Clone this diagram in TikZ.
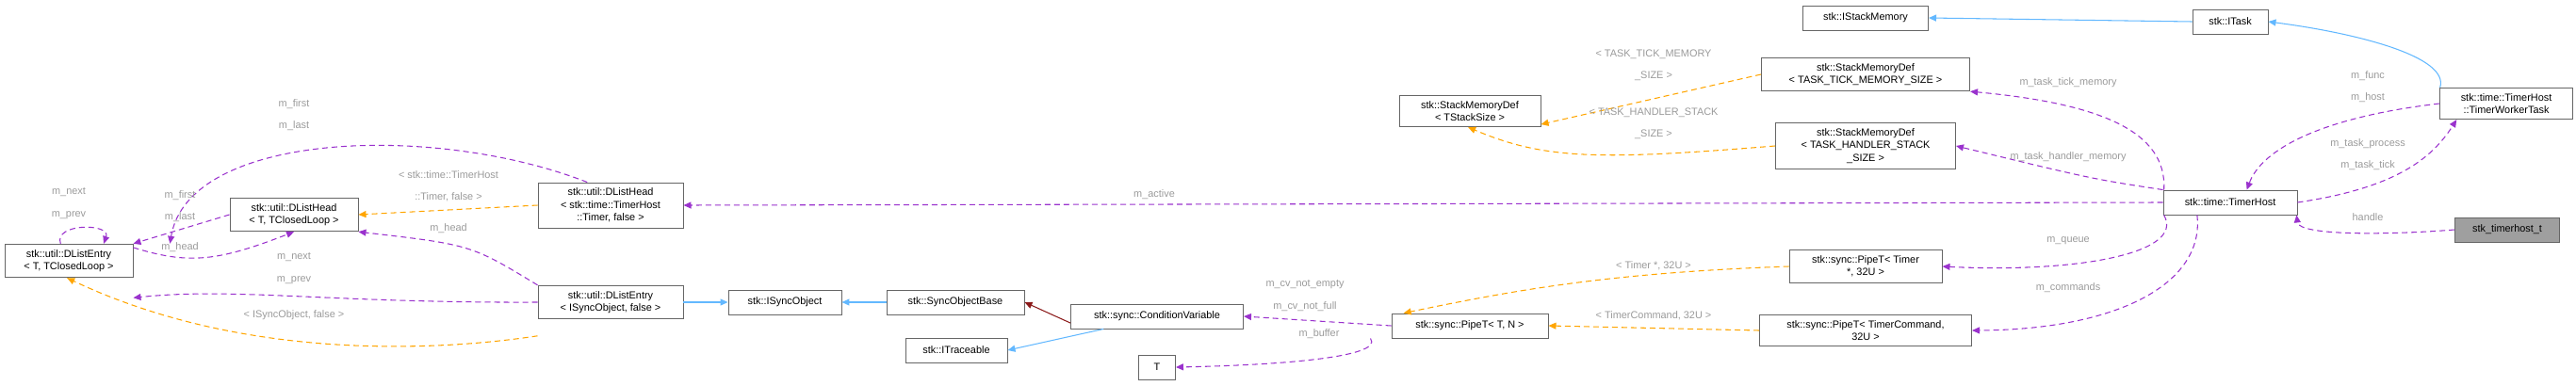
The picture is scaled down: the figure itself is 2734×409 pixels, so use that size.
\documentclass[tikz,border=0pt]{standalone}
\usepackage{fontspec}
\setmainfont{Liberation Sans}
\usetikzlibrary{arrows.meta}
\definecolor{mbr}{HTML}{9A32CD}
\definecolor{tpl}{HTML}{FFA500}
\definecolor{inh}{HTML}{63B8FF}
\definecolor{prv}{HTML}{8B1A1A}
\definecolor{lbl}{HTML}{9A9A9A}
\begin{document}
\begin{tikzpicture}[x=0.01cm,y=-0.01cm]
    \tikzset{every node/.style={font=\fontsize{3.1}{3.8}\selectfont,align=center,inner sep=0.6mm},
      box/.style={draw=gray!80!black,line width=0.25pt,fill=white,minimum height=0.26cm},
      note/.style={text=lbl,inner sep=0pt},
      member/.style={-{Triangle[width=0.07cm,length=0.08cm,fill=mbr]},draw=mbr,dash pattern=on 0.06cm off 0.04cm,line width=0.3pt},
      templ/.style={-{Triangle[width=0.07cm,length=0.08cm,fill=tpl]},draw=tpl,dash pattern=on 0.06cm off 0.04cm,line width=0.3pt},
      inherit/.style={-{Triangle[width=0.07cm,length=0.08cm,fill=inh]},draw=inh,line width=0.3pt},
      private/.style={-{Triangle[width=0.07cm,length=0.08cm,fill=prv]},draw=prv,line width=0.3pt}}
    \useasboundingbox (0,0) rectangle (2734,409);

    \node[box,minimum width=1.36cm] at (73,277)   (le) {stk::util::DListEntry\\< T, TClosedLoop >};
    \node[box,minimum width=1.36cm] at (312,228)  (lh) {stk::util::DListHead\\< T, TClosedLoop >};
    \node[box,minimum width=1.54cm] at (648,218)  (lht) {stk::util::DListHead\\< stk::time::TimerHost\\::Timer, false >};
    \node[box,minimum width=1.54cm] at (648,321)  (les) {stk::util::DListEntry\\< ISyncObject, false >};
    \node[box,minimum width=1.2cm] at (833,321)   (iso) {stk::ISyncObject};
    \node[box,minimum width=1.46cm] at (1014,321) (sob) {stk::SyncObjectBase};
    \node[box,minimum width=1.08cm] at (1015,372) (itr) {stk::ITraceable};
    \node[box,minimum width=1.83cm] at (1228,336) (cv) {stk::sync::ConditionVariable};
    \node[box,minimum width=0.39cm] at (1228,390) (t) {T};
    \node[box,minimum width=1.66cm] at (1560,346) (pn) {stk::sync::PipeT< T, N >};
    \node[box,minimum width=1.62cm] at (1980,283) (pt) {stk::sync::PipeT< Timer\\ *, 32U >};
    \node[box,minimum width=2.25cm] at (1980,351) (pc) {stk::sync::PipeT< TimerCommand,\\ 32U >};
    \node[box,minimum width=1.5cm] at (1560,118)  (sms) {stk::StackMemoryDef\\< TStackSize >};
    \node[box,minimum width=2.21cm] at (1980,79)  (smt) {stk::StackMemoryDef\\< TASK\_TICK\_MEMORY\_SIZE >};
    \node[box,minimum width=1.91cm] at (1980,155) (smh) {stk::StackMemoryDef\\< TASK\_HANDLER\_STACK\\\_SIZE >};
    \node[box,minimum width=1.33cm] at (1980,19)  (ism) {stk::IStackMemory};
    \node[box,minimum width=0.8cm] at (2367,23)   (itk) {stk::ITask};
    \node[box,minimum width=1.42cm] at (2367,215) (th) {stk::time::TimerHost};
    \node[box,minimum width=1.41cm] at (2660,110) (twt) {stk::time::TimerHost\\::TimerWorkerTask};
    \node[box,minimum width=1.11cm,fill=gray!75] at (2661,244) (hdl) {stk\_timerhost\_t};

    % list nodes
    \draw[member] ([xshift=17]le.north west) .. controls +(-8,-22) and +(8,-22) .. ([xshift=30]le.north west);
    \node[note] at (73,216) (n1) {m\_next\\[1mm]m\_prev};
    \draw[member] ([xshift=15]lht.north west) .. controls (460,130) and (200,140) .. ([xshift=50]le.north west);
    \node[note] at (312,122) (n2) {m\_first\\[1mm]m\_last};
    \draw[member] (lh.west) -- (le.north east);
    \node[note] at (191,219) (n3) {m\_first\\[1mm]m\_last};
    \draw[member] ([yshift=4]le.east) .. controls (200,281) and (230,278) .. (lh.south);
    \node[note] at (191,263) (n4) {m\_head};
    \draw[member] (les.north west) .. controls (500,260) .. (lh.south east);
    \node[note] at (476,243) (n5) {m\_head};
    \draw[member] (les.west) .. controls (350,322) and (250,305) .. ([yshift=-6]le.south east);
    \node[note] at (312,285) (n6) {m\_next\\[1mm]m\_prev};
    \draw[templ] (lht.west) -- (lh.east);
    \node[note] at (476,198) (n7) {< stk::time::TimerHost\\[1mm]::Timer, false >};
    \draw[templ] ([yshift=-5]les.south west) .. controls (450,375) and (250,380) .. ([xshift=-20]le.south east);
    \node[note] at (312,335) (n8) {< ISyncObject, false >};

    % sync objects
    \draw[inherit] (les.east) -- (iso.west);
    \draw[inherit] (sob.west) -- (iso.east);
    \draw[private] ([yshift=-2]cv.west) -- (sob.east);
    \draw[inherit] ([xshift=10]cv.south west) -- (itr.east);
    \draw[member] (pn.west) -- (cv.east);
    \node[note] at (1385,314) (n9) {m\_cv\_not\_empty\\[1mm]m\_cv\_not\_full};
    \draw[member] ([xshift=-30]pn.south) .. controls (1470,380) and (1350,388) .. (t.east);
    \node[note] at (1400,355) (n10) {m\_buffer};
    \draw[templ] (pt.west) .. controls (1700,290) and (1600,310) .. ([xshift=-20]pn.north);
    \node[note] at (1755,282) (n11) {< Timer *, 32U >};
    \draw[templ] (pc.west) -- (pn.east);
    \node[note] at (1755,335) (n12) {< TimerCommand, 32U >};

    % stack memory
    \draw[templ] (smt.west) -- ([yshift=-4]sms.east);
    \node[note] at (1755,69) (n13) {< TASK\_TICK\_MEMORY\\[1mm]\_SIZE >};
    \draw[templ] (smh.west) .. controls (1700,170) and (1640,170) .. ([xshift=-22]sms.south east);
    \node[note] at (1755,131) (n14) {< TASK\_HANDLER\_STACK\\[1mm]\_SIZE >};
    \draw[inherit] (itk.west) -- (ism.east);
    \draw[inherit] ([xshift=-20]twt.north) .. controls (2600,60) and (2500,35) .. (itk.east);

    % timer host
    \draw[member] ([xshift=-20]th.north) .. controls (2300,140) and (2230,110) .. (smt.south east);
    \node[note] at (2195,88) (n15) {m\_task\_tick\_memory};
    \draw[member] (th.north west) .. controls (2220,190) .. (smh.east);
    \node[note] at (2195,167) (n16) {m\_task\_handler\_memory};
    \draw[member] (th.west) -- (lht.east);
    \node[note] at (1225,207) (n17) {m\_active};
    \draw[member] ([xshift=-20]th.south) .. controls (2320,270) and (2200,290) .. (pt.east);
    \node[note] at (2195,256) (n18) {m\_queue};
    \draw[member] ([xshift=-10]th.south) .. controls (2340,300) and (2250,350) .. (pc.east);
    \node[note] at (2195,306) (n19) {m\_commands};
    \draw[member] (twt.west) .. controls (2460,125) and (2400,160) .. ([xshift=5]th.north);
    \node[note] at (2513,92) (n20) {m\_func\\[1mm]m\_host};
    \draw[member] (th.east) .. controls (2540,200) and (2580,170) .. ([xshift=-15]twt.south);
    \node[note] at (2513,164) (n21) {m\_task\_process\\[1mm]m\_task\_tick};
    \draw[member] (hdl.west) .. controls (2530,250) and (2440,250) .. ([xshift=20]th.south);
    \node[note] at (2513,231) (n22) {handle};
\end{tikzpicture}
\end{document}
